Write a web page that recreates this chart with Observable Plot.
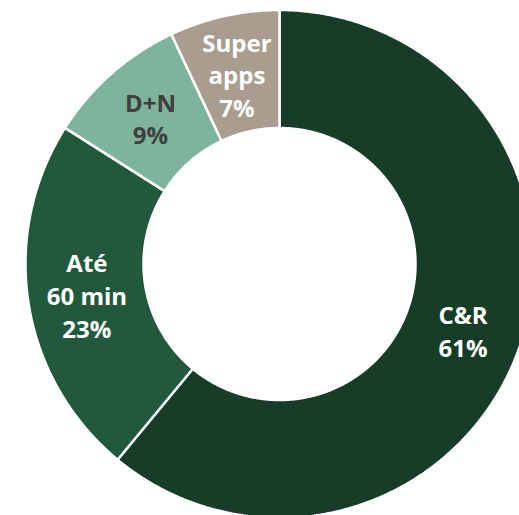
<!DOCTYPE html>
<html>
<head>
<meta charset="utf-8">
<script src="https://cdn.jsdelivr.net/npm/d3@7"></script>
<script src="https://cdn.jsdelivr.net/npm/@observablehq/plot@0.6"></script>
<style>
  html, body { margin: 0; padding: 0; background: #fff; }
  #chart svg { overflow: hidden; display: block; }
</style>
</head>
<body>
<div id="chart"></div>
<script>
// Data
const categories = ["C&R", "Até 60 min", "D+N", "Super apps"];
const shares = [61, 23, 9, 7];
const labels = ["C&R\n61%", "Até\n60 min\n23%", "D+N\n9%", "Super\napps\n7%"];

// Geometry (in data units of the x/y scales)
const R = 254, r = 136;
const total = d3.sum(shares);

const wedgePoints = [];
const labelPoints = [];
let cum = 0;
categories.forEach((cat, i) => {
  const a0 = cum / total * 2 * Math.PI;
  cum += shares[i];
  const a1 = cum / total * 2 * Math.PI;
  const n = Math.max(2, Math.ceil((a1 - a0) / (Math.PI / 360)));
  for (let k = 0; k <= n; k++) {
    const a = a0 + (a1 - a0) * k / n;
    wedgePoints.push({cat, x: R * Math.sin(a), y: R * Math.cos(a)});
  }
  for (let k = n; k >= 0; k--) {
    const a = a0 + (a1 - a0) * k / n;
    wedgePoints.push({cat, x: r * Math.sin(a), y: r * Math.cos(a)});
  }
  const am = (a0 + a1) / 2, rm = (R + r) / 2;
  labelPoints.push({cat, label: labels[i], x: rm * Math.sin(am), y: rm * Math.cos(am)});
});

const chart = Plot.plot({
  width: 519,
  height: 515,
  margin: 0,
  x: {axis: null, domain: [-279, 240]},
  y: {axis: null, domain: [-251.5, 263.5]},
  color: {domain: categories, range: ["#173d28", "#22593d", "#7eb49b", "#a99d90"]},
  style: {background: "white"},
  marks: [
    Plot.line(wedgePoints, {
      x: "x", y: "y", z: "cat", fill: "cat",
      stroke: "white", strokeWidth: 2.5, curve: "linear-closed", strokeLinejoin: "miter"
    }),
    Plot.text(labelPoints.filter(d => d.cat !== "D+N"), {
      x: "x", y: "y", text: "label", fill: "white",
      fontSize: 24, fontWeight: "bold", fontFamily: "Open Sans", lineHeight: 1.36
    }),
    Plot.text(labelPoints.filter(d => d.cat === "D+N"), {
      x: "x", y: "y", text: "label", fill: "#404040",
      fontSize: 24, fontWeight: "bold", fontFamily: "Open Sans", lineHeight: 1.36
    })
  ]
});
document.getElementById("chart").append(chart);
</script>
</body>
</html>
